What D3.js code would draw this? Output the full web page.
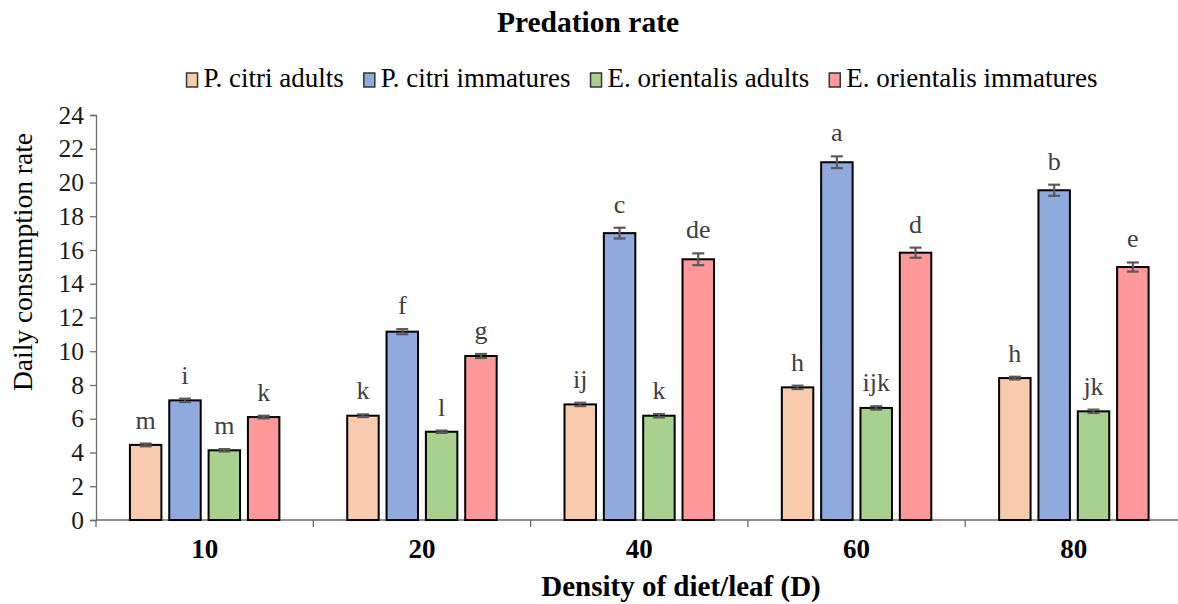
<!DOCTYPE html>
<html><head><meta charset="utf-8">
<script src="https://cdn.jsdelivr.net/npm/d3@7"></script>
<style>body{margin:0;background:#fff}svg{display:block}svg text{font-family:"Liberation Serif","Times New Roman",serif !important}</style>
</head><body>
<svg id="c" width="1178" height="604"></svg>
<script>
const categories = ["10","20","40","60","80"];
const seriesNames = ["P. citri adults","P. citri immatures","E. orientalis adults","E. orientalis immatures"];
const pCitriAdults = [4.45, 6.18, 6.85, 7.86, 8.41];
const pCitriImmatures = [7.09, 11.16, 17.0, 21.2, 19.54];
const eOrientalisAdults = [4.13, 5.23, 6.18, 6.64, 6.44];
const eOrientalisImmatures = [6.1, 9.72, 15.45, 15.84, 14.99];
const errPCitriAdults = [0.08, 0.08, 0.1, 0.1, 0.08];
const errPCitriImmatures = [0.1, 0.15, 0.32, 0.35, 0.33];
const errEOrientalisAdults = [0.07, 0.07, 0.1, 0.1, 0.1];
const errEOrientalisImmatures = [0.08, 0.12, 0.35, 0.3, 0.27];
const lettersPCA = ["m","k","ij","h","h"];
const lettersPCI = ["i","f","c","a","b"];
const lettersEOA = ["m","l","k","ijk","jk"];
const lettersEOI = ["k","g","de","d","e"];
const yTicks = [0,2,4,6,8,10,12,14,16,18,20,22,24];
const colors = ["#F8CBAD","#8FAADC","#A9D18E","#FF9999"];

const values = [pCitriAdults, pCitriImmatures, eOrientalisAdults, eOrientalisImmatures];
const errs = [errPCitriAdults, errPCitriImmatures, errEOrientalisAdults, errEOrientalisImmatures];
const letters = [lettersPCA, lettersPCI, lettersEOA, lettersEOI];

const data = [];
categories.forEach((c, ci) => seriesNames.forEach((s, si) => data.push({
  cat: c, s: si, v: values[si][ci], e: errs[si][ci], l: letters[si][ci]
})));

const FONT = "Liberation Serif";
const svg = d3.select("#c");
svg.append("rect").attr("width",1178).attr("height",604).attr("fill","#fff");

const mLeft = 96, mRight = 1182.5, mTop = 115, mBottom = 520;
const x0 = d3.scaleBand().domain(categories).range([mLeft, mRight]).padding(0);
const bw = x0.bandwidth();
const x1 = d3.scaleBand().domain(d3.range(4)).range([bw*0.138, bw*0.862]).paddingInner(0.2).paddingOuter(0.1);
const y = d3.scaleLinear().domain([0,24]).range([mBottom, mTop]);

// title
svg.append("text").attr("x",588).attr("y",32).attr("text-anchor","middle").attr("font-family",FONT)
  .attr("font-size",29.5).attr("font-weight","bold").attr("fill","#000").text("Predation rate");

// y axis
const ya = svg.append("g").attr("transform",`translate(${mLeft},0)`)
  .call(d3.axisLeft(y).tickValues(yTicks).tickSize(6).tickPadding(6).tickFormat(d3.format("d")));
ya.attr("font-family",FONT);
ya.select(".domain").attr("stroke","#6b6b6b").attr("stroke-width",1.3);
ya.selectAll(".tick line").attr("stroke","#6b6b6b").attr("stroke-width",1.3);
ya.selectAll(".tick text").attr("font-size",25.5).attr("fill","#1a1a1a").attr("font-family",FONT);

// x axis
const xa = svg.append("g").attr("transform",`translate(0,${mBottom})`);
xa.append("line").attr("x1",mLeft).attr("x2",1178).attr("stroke","#6b6b6b").attr("stroke-width",1.3);
xa.selectAll("line.t").data(categories).join("line").attr("class","t")
  .attr("x1",d=>x0(d)).attr("x2",d=>x0(d)).attr("y1",0).attr("y2",7)
  .attr("stroke","#6b6b6b").attr("stroke-width",1.3);
xa.selectAll("text").data(categories).join("text")
  .attr("x",d=>x0(d)+bw/2).attr("y",38).attr("text-anchor","middle").attr("font-family",FONT)
  .attr("font-size",27).attr("font-weight","bold").attr("fill","#000").text(d=>d);

// bars
const g = svg.append("g");
g.selectAll("rect.bar").data(data).join("rect").attr("class","bar")
  .attr("x",d=>x0(d.cat)+x1(d.s)).attr("width",x1.bandwidth())
  .attr("y",d=>y(d.v)).attr("height",d=>y(0)-y(d.v))
  .attr("fill",d=>colors[d.s]).attr("stroke","#000").attr("stroke-width",2);

// error bars
const eg = g.selectAll("g.err").data(data).join("g").attr("class","err")
  .attr("stroke","#5a5a5a").attr("stroke-width",2.2);
eg.append("line").attr("x1",d=>x0(d.cat)+x1(d.s)+x1.bandwidth()/2).attr("x2",d=>x0(d.cat)+x1(d.s)+x1.bandwidth()/2)
  .attr("y1",d=>y(d.v-d.e)).attr("y2",d=>y(d.v+d.e));
[1,-1].forEach(sg => {
  eg.append("line").attr("x1",d=>x0(d.cat)+x1(d.s)+x1.bandwidth()/2-6).attr("x2",d=>x0(d.cat)+x1(d.s)+x1.bandwidth()/2+6)
    .attr("y1",d=>y(d.v+sg*d.e)).attr("y2",d=>y(d.v+sg*d.e));
});

// letters
g.selectAll("text.lab").data(data).join("text").attr("class","lab")
  .attr("x",d=>x0(d.cat)+x1(d.s)+x1.bandwidth()/2).attr("y",d=>y(d.v+d.e)-15)
  .attr("text-anchor","middle").attr("font-family",FONT).attr("font-size",26).attr("fill","#404040").text(d=>d.l);

// axis titles
svg.append("text").attr("transform","translate(32,262) rotate(-90)").attr("text-anchor","middle")
  .attr("font-family",FONT).attr("font-size",27.5).attr("fill","#000").text("Daily consumption rate");
svg.append("text").attr("x",681).attr("y",596).attr("text-anchor","middle").attr("font-family",FONT)
  .attr("font-size",29).attr("font-weight","bold").attr("fill","#000").text("Density of diet/leaf (D)");

// legend
const lg = svg.append("g");
const items = lg.selectAll("g").data(seriesNames).join("g");
items.append("rect").attr("width",11).attr("height",14).attr("y",-14)
  .attr("fill",(d,i)=>colors[i]).attr("stroke","#333").attr("stroke-width",1.5);
items.append("text").attr("x",17).attr("y",0).attr("font-family",FONT).attr("font-size",27).attr("fill","#000").text(d=>d);
let widths = [];
items.each(function(){ widths.push(17 + this.querySelector("text").getComputedTextLength()); });
const gap = 20;
const total = d3.sum(widths) + gap*(widths.length-1);
let cx = 642 - total/2;
items.attr("transform",(d,i)=>{ const t = `translate(${cx},87)`; cx += widths[i]+gap; return t; });
</script>
</body></html>
